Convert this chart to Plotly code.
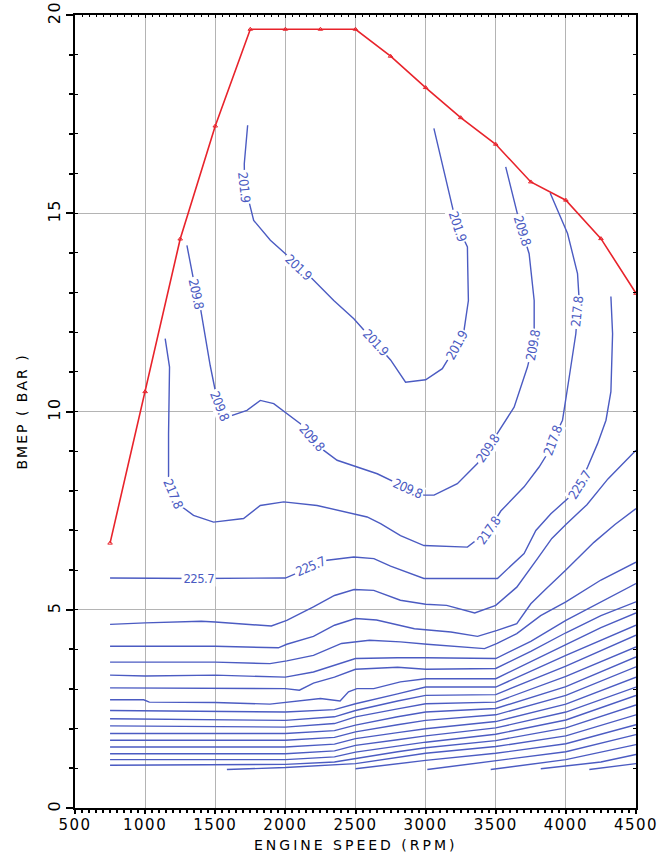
import plotly.graph_objects as go

# ---------------- data ----------------
# full-load (maximum BMEP) curve
wot_rpm = [750, 1000, 1250, 1500, 1750, 2000, 2250, 2500, 2750, 3000, 3250, 3500, 3750, 4000, 4250, 4500]
wot_bmep = [6.68, 10.5, 14.35, 17.2, 19.64, 19.64, 19.64, 19.64, 18.96, 18.17, 17.41, 16.74, 15.79, 15.33, 14.36, 12.98]

# labelled BSFC contours (g/kWh)
c201_9_rpm = [1731, 1707, 1709, 1738, 1774, 1893, 2012, 2095, 2179, 2345, 2488, 2643, 2750, 2857, 3000, 3119,
              3221, 3274, 3305, 3300, 3298, 3229, 3202, 3059]
c201_9_bmep = [17.22, 16.25, 15.66, 15.33, 14.82, 14.32, 13.94, 13.64, 13.39, 12.80, 12.34, 11.74, 11.30, 10.74,
               10.80, 11.08, 11.67, 12.05, 12.80, 13.68, 14.15, 14.67, 14.99, 17.14]

c209_8_rpm = [1298, 1364, 1393, 1464, 1500, 1529, 1583, 1726, 1821, 1917, 2107, 2186, 2274, 2369, 2655, 2774,
              2871, 2988, 3060, 3226, 3369, 3443, 3512, 3631, 3726, 3764, 3774, 3774, 3738, 3690, 3666, 3571]
c209_8_bmep = [14.19, 12.98, 12.64, 11.16, 10.53, 10.15, 9.86, 10.03, 10.28, 10.20, 9.69, 9.34, 9.02, 8.77,
               8.43, 8.22, 8.06, 7.89, 7.89, 8.18, 8.69, 9.07, 9.44, 10.11, 11.12, 11.67, 12.05, 12.80, 13.98,
               14.57, 14.82, 16.17]

c217_8_rpm = [1143, 1174, 1167, 1167, 1200, 1250, 1345, 1488, 1702, 1821, 1988, 2226, 2583, 2679, 2821, 2988,
              3298, 3357, 3450, 3536, 3702, 3809, 3869, 3907, 3976, 4024, 4071, 4083, 4095, 4083, 4012, 3888]
c217_8_bmep = [11.84, 11.12, 9.44, 8.35, 7.94, 7.63, 7.38, 7.21, 7.30, 7.63, 7.72, 7.63, 7.34, 7.17, 6.87,
               6.62, 6.58, 6.75, 7.00, 7.49, 8.10, 8.60, 8.94, 9.27, 9.78, 10.87, 11.96, 12.51, 12.80, 13.48,
               14.49, 15.51]

c225_7_rpm = [750, 1379, 2000, 2179, 2298, 2488, 2631, 2750, 2988, 3512, 3702, 3786, 3893, 4012, 4095, 4155,
              4226, 4286, 4321, 4333, 4321]
c225_7_bmep = [5.80, 5.79, 5.80, 6.08, 6.25, 6.33, 6.29, 6.10, 5.79, 5.79, 6.42, 7.00, 7.42, 7.80, 8.14, 8.60,
               9.19, 9.78, 10.50, 11.96, 12.90]

# unlabelled higher-consumption contours
c233_6_rpm = [750, 1000, 1400, 1500, 1900, 2010, 2200, 2350, 2490, 2630, 2820, 3000, 3150, 3350, 3500, 3650,
              3800, 3900, 4000, 4150, 4300, 4500]
c233_6_bmep = [4.63, 4.67, 4.71, 4.69, 4.59, 4.73, 5.07, 5.36, 5.51, 5.49, 5.24, 5.14, 5.11, 4.92, 5.11, 5.57,
               6.30, 6.80, 7.15, 7.65, 8.30, 9.02]
c241_6_rpm = [750, 1500, 1950, 2010, 2200, 2350, 2500, 2650, 2920, 3180, 3370, 3510, 3650, 3750, 3850, 4000,
              4200, 4350, 4500]
c241_6_bmep = [4.08, 4.08, 4.04, 4.13, 4.33, 4.61, 4.78, 4.74, 4.52, 4.44, 4.33, 4.48, 4.65, 5.15, 5.50, 6.00,
               6.70, 7.15, 7.55]
c249_5_rpm = [750, 1500, 1890, 2010, 2200, 2400, 2600, 2820, 3010, 3420, 3510, 3650, 3820, 4000, 4250, 4500]
c249_5_bmep = [3.68, 3.68, 3.64, 3.71, 3.85, 4.15, 4.23, 4.19, 4.13, 4.02, 4.15, 4.40, 4.85, 5.20, 5.75, 6.20]
c257_4_rpm = [750, 1000, 1500, 2000, 2200, 2500, 2800, 3000, 3500, 3750, 4000, 4250, 4500]
c257_4_bmep = [3.35, 3.33, 3.35, 3.30, 3.43, 3.77, 3.79, 3.79, 3.77, 4.20, 4.73, 5.20, 5.66]
c265_4_rpm = [750, 1500, 2000, 2100, 2200, 2350, 2500, 2800, 3000, 3500, 3750, 4000, 4250, 4500]
c265_4_bmep = [3.03, 3.01, 3.01, 2.97, 3.15, 3.30, 3.50, 3.55, 3.50, 3.52, 3.95, 4.42, 4.85, 5.20]
c273_3_rpm = [750, 990, 1030, 1500, 1890, 2010, 2250, 2390, 2450, 2510, 2630, 2820, 3000, 3500, 3750, 4000,
              4250, 4500]
c273_3_bmep = [2.73, 2.73, 2.67, 2.66, 2.62, 2.67, 2.76, 2.70, 2.93, 3.01, 3.01, 3.18, 3.26, 3.26, 3.68, 4.12,
               4.55, 4.92]

low_rpm = [750, 2000, 2350, 2500, 2800, 3000, 3500, 4000, 4500]
c281_2_bmep = [2.46, 2.42, 2.48, 2.63, 2.88, 3.05, 3.05, 3.85, 4.61]
c289_1_bmep = [2.25, 2.21, 2.30, 2.46, 2.70, 2.84, 2.86, 3.58, 4.36]
c297_1_bmep = [2.07, 2.04, 2.13, 2.30, 2.50, 2.63, 2.67, 3.32, 4.06]
c305_0_bmep = [1.88, 1.88, 1.95, 2.09, 2.30, 2.42, 2.51, 3.06, 3.81]
c312_9_bmep = [1.71, 1.71, 1.78, 1.92, 2.10, 2.21, 2.35, 2.84, 3.56]
c320_9_bmep = [1.54, 1.54, 1.61, 1.75, 1.90, 2.00, 2.18, 2.62, 3.30]
c328_8_bmep = [1.37, 1.37, 1.44, 1.58, 1.72, 1.82, 2.02, 2.42, 3.05]
c336_7_bmep = [1.22, 1.22, 1.29, 1.41, 1.56, 1.66, 1.86, 2.22, 2.84]
c344_7_bmep = [1.08, 1.10, 1.16, 1.25, 1.42, 1.52, 1.70, 2.02, 2.60]

c352_6_rpm = [1583, 2000, 2500, 2800, 3000, 3500, 4000, 4500]
c352_6_bmep = [0.97, 1.02, 1.12, 1.28, 1.38, 1.55, 1.82, 2.35]
c360_5_rpm = [2500, 3000, 3500, 4000, 4500]
c360_5_bmep = [0.99, 1.20, 1.38, 1.62, 2.10]
c368_4_rpm = [3012, 3500, 4000, 4500]
c368_4_bmep = [0.97, 1.20, 1.42, 1.85]
c376_4_rpm = [3464, 4000, 4500]
c376_4_bmep = [0.97, 1.22, 1.60]
c384_3_rpm = [3821, 4250, 4500]
c384_3_bmep = [0.99, 1.16, 1.35]
c392_2_rpm = [4167, 4500]
c392_2_bmep = [0.97, 1.12]

# contour labels
label_text = ["201.9"] * 5 + ["209.8"] * 7 + ["217.8"] * 4 + ["225.7"] * 3
label_rpm = [1709, 2095, 2643, 3221, 3229, 1364, 1529, 2186, 2871, 3443, 3764, 3690, 1200, 3450, 3907, 4083,
             1379, 2179, 4095]
label_bmep = [15.66, 13.64, 11.74, 11.67, 14.67, 12.98, 10.15, 9.34, 8.06, 9.07, 11.67, 14.57, 7.94, 7.00,
              9.27, 12.51, 5.79, 6.08, 8.14]
label_angle = [84, 43, 47, -61, 72, 78, 68, 49, 24, -56, -80, 73, 67, -55, -70, -84, 0, -23, -58]

x_ticks = [500, 1000, 1500, 2000, 2500, 3000, 3500, 4000, 4500]
y_ticks = [0, 5, 10, 15, 20]

# ---------------- figure ----------------
BLUE = "#4b5bc2"
RED = "#e8232b"
GRID = "#b4b4b4"
FONT = "DejaVu Sans"
LABEL_FONT = "Liberation Sans Narrow, DejaVu Sans Condensed, sans-serif"

contours = [
    (c201_9_rpm, c201_9_bmep), (c209_8_rpm, c209_8_bmep), (c217_8_rpm, c217_8_bmep),
    (c225_7_rpm, c225_7_bmep), (c233_6_rpm, c233_6_bmep), (c241_6_rpm, c241_6_bmep),
    (c249_5_rpm, c249_5_bmep), (c257_4_rpm, c257_4_bmep), (c265_4_rpm, c265_4_bmep),
    (c273_3_rpm, c273_3_bmep),
    (low_rpm, c281_2_bmep), (low_rpm, c289_1_bmep), (low_rpm, c297_1_bmep), (low_rpm, c305_0_bmep),
    (low_rpm, c312_9_bmep), (low_rpm, c320_9_bmep), (low_rpm, c328_8_bmep), (low_rpm, c336_7_bmep),
    (low_rpm, c344_7_bmep),
    (c352_6_rpm, c352_6_bmep), (c360_5_rpm, c360_5_bmep), (c368_4_rpm, c368_4_bmep),
    (c376_4_rpm, c376_4_bmep), (c384_3_rpm, c384_3_bmep), (c392_2_rpm, c392_2_bmep),
]

fig = go.Figure()
for xs, ys in contours:
    fig.add_trace(go.Scatter(x=xs, y=ys, mode="lines", line=dict(color=BLUE, width=1.4),
                             hoverinfo="skip", showlegend=False))

fig.add_trace(go.Scatter(x=wot_rpm, y=wot_bmep, mode="lines+markers",
                         line=dict(color=RED, width=1.6),
                         marker=dict(symbol="triangle-up-open", size=4, color=RED, line=dict(width=1, color=RED)),
                         showlegend=False))

annotations = []
for t, xv, yv, a in zip(label_text, label_rpm, label_bmep, label_angle):
    annotations.append(dict(x=xv, y=yv, xref="x", yref="y", text=t, showarrow=False, textangle=a,
                            font=dict(family=LABEL_FONT, size=13, color=BLUE),
                            bgcolor="white", borderpad=0))

annotations.append(dict(x=0.5, y=-0.0466, xref="paper", yref="paper", yanchor="middle", showarrow=False,
                        text="ENGINE SPEED (RPM)", font=dict(family=FONT, size=14, color="black")))
annotations.append(dict(x=-0.0945, y=0.5, xref="paper", yref="paper", xanchor="center", showarrow=False,
                        text="BMEP ( BAR )", textangle=-90, font=dict(family=FONT, size=14, color="black")))

fig.update_layout(
    width=660, height=852,
    margin=dict(l=75, r=24, t=15, b=44),
    paper_bgcolor="white", plot_bgcolor="white",
    showlegend=False,
    annotations=annotations,
    xaxis=dict(range=[500, 4500], tickvals=x_ticks, ticktext=[str(v) for v in x_ticks], automargin=False,
               showgrid=True, gridcolor=GRID, gridwidth=1, zeroline=False,
               showline=True, linecolor="black", linewidth=2, mirror=True,
               ticks="outside", ticklen=4, tickwidth=1.5, tickcolor="black", ticklabelstandoff=-2,
               minor=dict(dtick=50, tick0=500, ticks="outside", ticklen=3, tickcolor="black", showgrid=False),
               tickfont=dict(family=FONT, size=15, color="black")),
    xaxis2=dict(range=[500, 4500], overlaying="x", side="top", anchor="y", showgrid=False, zeroline=False,
                automargin=False, showticklabels=False, ticks="inside", ticklen=3, tickcolor="black",
                tickvals=x_ticks,
                minor=dict(dtick=50, tick0=500, ticks="inside", ticklen=2, tickcolor="black", showgrid=False)),
    yaxis=dict(range=[0, 20], tickvals=y_ticks, ticktext=[str(v) for v in y_ticks], tickangle=-90,
               automargin=False,
               showgrid=True, gridcolor=GRID, gridwidth=1, zeroline=False,
               showline=True, linecolor="black", linewidth=2, mirror=True,
               ticks="outside", ticklen=7, tickwidth=1.5, tickcolor="black",
               minor=dict(dtick=1, tick0=0, ticks="outside", ticklen=4, tickcolor="black", showgrid=False),
               tickfont=dict(family=FONT, size=16, color="black")),
    yaxis2=dict(range=[0, 20], overlaying="y", side="right", anchor="x", showgrid=False, zeroline=False,
                automargin=False, showticklabels=False, ticks="inside", ticklen=3, tickcolor="black",
                dtick=1, tick0=0),
    yaxis3=dict(range=[0, 20], overlaying="y", side="left", anchor="x", showgrid=False, zeroline=False,
                automargin=False, showticklabels=False, ticks="inside", ticklen=3, tickcolor="black",
                dtick=1, tick0=0),
)

# invisible traces to activate overlay axes
fig.add_trace(go.Scatter(x=[500], y=[0], xaxis="x2", yaxis="y2", mode="markers",
                         marker=dict(opacity=0), hoverinfo="skip", showlegend=False))
fig.add_trace(go.Scatter(x=[500], y=[0], xaxis="x", yaxis="y3", mode="markers",
                         marker=dict(opacity=0), hoverinfo="skip", showlegend=False))

# widen the stroke-font look of the axis texts (letter spacing)
post = """
(function(){
  var gd = document.getElementById('{plot_id}');
  function ls(){
    gd.querySelectorAll('text.annotation-text').forEach(function(t){
      var s = t.getAttribute('data-unformatted');
      if (s === 'ENGINE SPEED (RPM)') { t.setAttribute('letter-spacing', '3px'); }
      if (s === 'BMEP ( BAR )') { t.setAttribute('letter-spacing', '2px'); }
      if (/^\\d+\\.\\d$/.test(s)) { t.setAttribute('letter-spacing', '-0.6px'); }
    });
    gd.querySelectorAll('g.xtick text, g.ytick text').forEach(function(t){
      t.setAttribute('letter-spacing', '1.5px');
    });
  }
  ls();
  if (gd && gd.on) { gd.on('plotly_afterplot', ls); }
  setTimeout(ls, 30);
})();
"""

fig.write_html("out.html", post_script=post)
